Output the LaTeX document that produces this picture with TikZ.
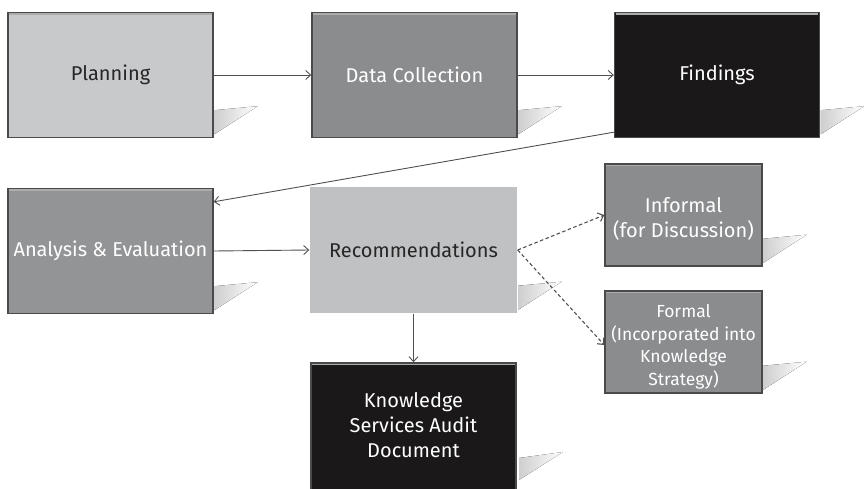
\documentclass[tikz,border=0pt]{standalone}
\usepackage{fontspec}
\setmainfont{Fira Sans}
\usetikzlibrary{arrows.meta,calc}
\definecolor{cLight}{HTML}{C8C9CB}
\definecolor{cRec}{HTML}{C0C1C3}
\definecolor{cMid}{HTML}{8B8C8E}
\definecolor{cMid2}{HTML}{939496}
\definecolor{cDark}{HTML}{1A1819}
\definecolor{cEdge}{HTML}{4A4A4C}
\definecolor{cArrow}{HTML}{505050}
\tikzset{
  box/.style={draw=cEdge, line width=1.4pt, minimum width=205pt, minimum height=125pt, align=center, inner sep=2pt, font=\fontsize{20}{25}\selectfont},
  smallbox/.style={box, minimum width=157pt, minimum height=102pt},
  flow/.style={draw=cArrow, line width=0.9pt, -{Straight Barb[length=5pt,width=9pt]}},
  dflow/.style={flow, line width=1.1pt, dashed, dash pattern=on 3.5pt off 2.5pt},
  shadowfill/.style={left color=gray!38, right color=white},
  bevel/.style={draw=gray!65, line width=1.6pt},
}
\newcommand{\boxshadow}[1]{%
  \fill[shadowfill]
    ($(#1.south east)+(0.7,-4)$) -- ($(#1.south east)+(0.7,-28)$) -- ($(#1.south east)+(44,-32)$) -- cycle;}
\newcommand{\boxbevel}[1]{%
  \draw[bevel] ($(#1.north west)+(2,2.2)$) -- ($(#1.north east)+(-2,2.2)$);}
\begin{document}
\begin{tikzpicture}[x=1pt,y=-1pt]
\useasboundingbox (0,0) rectangle (864,488);
\node[box, fill=cLight, text=black!85] (plan) at (110.5,75) {Planning};
\node[box, fill=cMid, text=white] (data) at (414.5,75) {Data Collection};
\node[box, fill=cDark, text=white] (find) at (717,75) {Findings};
\node[box, fill=cMid2, text=white] (anal) at (110.5,251) {Analysis \& Evaluation};
\node[box, draw=none, fill=cRec, text=black!85, minimum width=207pt, minimum height=126pt] (rec) at (413.5,250) {Recommendations};
\node[smallbox, fill=cMid, text=white] (inf) at (683.5,215) {};
\node[text=white, align=center, font=\fontsize{20}{25}\selectfont] (inft) at (683.5,219) {Informal\\(for Discussion)};
\node[smallbox, fill=cMid, text=white] (form) at (683.5,342) {};
\node[text=white, align=center, font=\fontsize{17.5}{22.5}\selectfont] (formt) at (683.5,347) {Formal\\(Incorporated into\\Knowledge\\Strategy)};
\node[box, fill=cDark, text=white, minimum height=140pt] (ksa) at (413.5,433) {};
\node[text=white, align=center, font=\fontsize{20}{25}\selectfont] (ksat) at (413.5,425) {Knowledge\\Services Audit\\Document};
\foreach \n in {plan,data,find,anal,rec,inf,form}{\boxshadow{\n}}
\fill[shadowfill] (519,480) -- (519,458) -- (563,452) -- cycle;
\foreach \n in {plan,data,find,anal,inf,form,ksa}{\boxbevel{\n}}
% connectors
\draw[flow] (plan.east) -- (data.west);
\draw[flow] (data.east) -- (find.west);
\draw[flow] ($(find.south west)+(0,-6)$) -- ($(anal.north east)+(0,14)$);
\draw[flow] (anal.east) -- (rec.west);
\draw[flow] (rec.south) -- (ksa.north);
\draw[dflow] (rec.east) -- (inf.west);
\draw[dflow] (rec.east) -- ($(form.west)+(0,3)$);
\end{tikzpicture}
\end{document}
